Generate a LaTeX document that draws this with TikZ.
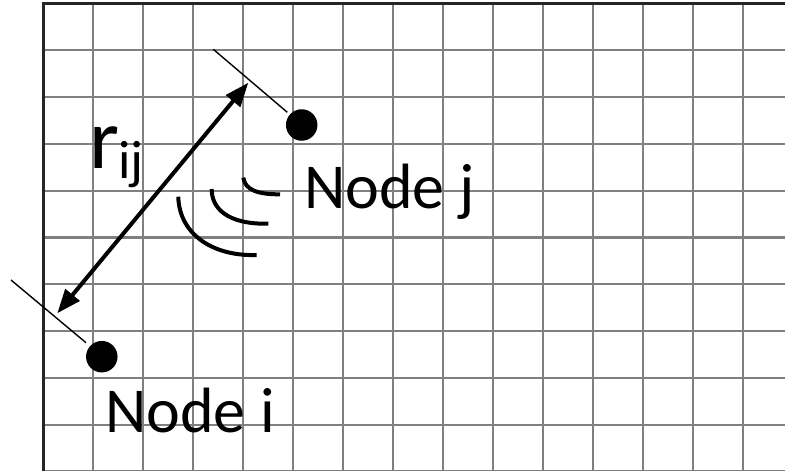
\documentclass[tikz,border=0pt]{standalone}
\usepackage{fontspec}
\setmainfont{Carlito}
\usetikzlibrary{arrows.meta}
\begin{document}
\begin{tikzpicture}[x=1pt,y=-1pt,
  gridline/.style={draw=black!50, line width=2.2pt},
  frame/.style={draw=black!85, line width=3pt},
  dot/.style={circle, fill=black, inner sep=0pt, minimum size=31.5pt},
  label/.style={anchor=base west, inner sep=0pt, font=\fontsize{64}{70}\selectfont},
  tick/.style={draw=black, line width=1.4pt},
  wave/.style={draw=black, line width=4pt},
  dist/.style={draw=black, line width=4pt, {Triangle[length=24pt,width=18pt]}-{Triangle[length=24pt,width=18pt]}}]
  \useasboundingbox (0,0) rectangle (785,471);
  \fill[white] (0,0) rectangle (785,471);

  % square paper
  \foreach \i in {1,...,14}
    \draw[gridline] (43.3+50*\i,3.5) -- (43.3+50*\i,472);
  \foreach \j in {1,...,10}
    \draw[gridline] (43.3,3.5+46.8*\j) -- (786,3.5+46.8*\j);
  \draw[frame] (43.3,472) -- (43.3,3.5) -- (786,3.5);

  % the two nodes
  \node[dot] (nj) at (301.7,125) {};
  \node[dot] (ni) at (101.8,356.7) {};
  \node[label] (lj) at (304,208.3) {Node j};
  \node[label] (li) at (105,432.7) {Node i};

  % distance marker with extension lines
  \coordinate (ejA) at (213.3,49.3);
  \coordinate (ejB) at (287.3,112.3);
  \coordinate (eiA) at (11,280);
  \coordinate (eiB) at (86,342.7);
  \draw[tick] (ejA) -- (ejB);
  \draw[tick] (eiA) -- (eiB);
  \coordinate (tipj) at (248.3,82.7);
  \coordinate (tipi) at (57.3,313.3);
  \draw[dist] (tipi) -- (tipj);
  \node[anchor=base west, inner sep=0pt, font=\fontsize{86}{90}\selectfont] (rij) at (89,168.3)
    {r\kern-1pt\raisebox{-10pt}{\fontsize{54}{56}\selectfont ij}};

  % radio waves
  \draw[wave] (243.3,177.7) .. controls (245,190) and (258,194.5) .. (280,194.3);
  \draw[wave] (211.7,189) .. controls (211.5,208) and (227,224.5) .. (268.3,223.7);
  \draw[wave] (178.3,196.7) .. controls (179,232) and (210,256.5) .. (256.7,255);
\end{tikzpicture}
\end{document}
